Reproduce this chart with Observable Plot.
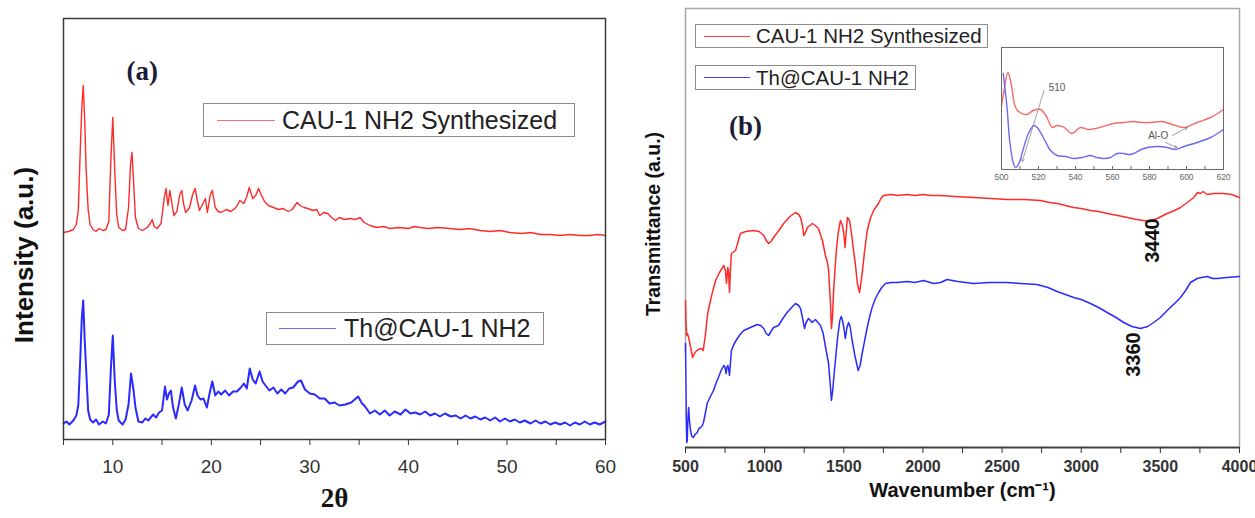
<!DOCTYPE html>
<html><head><meta charset="utf-8">
<script src="https://cdn.jsdelivr.net/npm/d3@7"></script>
<script src="https://cdn.jsdelivr.net/npm/@observablehq/plot@0.6"></script>
<style>
body{margin:0;background:#fff;}
#wrap{position:relative;width:1255px;height:518px;overflow:hidden;font-family:"Liberation Sans",Arial,sans-serif;background:#fff;}
.panel{position:absolute;}
.leg{position:absolute;border:1.5px solid #8c8c8c;background:#fff;box-sizing:border-box;display:flex;align-items:center;white-space:nowrap;color:#222;z-index:5;}
.leg .sw{display:inline-block;height:0;border-top-style:solid;}
</style></head>
<body><div id="wrap"></div>
<script>
// ---------- Panel (a): XRD, [2θ, intensity (a.u.)] ----------
const xrdSynthesized = [
[5.0,207],[5.5,208],[6.0,210],[6.3,215],[6.5,229],[6.7,289],[6.85,330],[7.0,354],[7.15,320],[7.3,269],[7.5,230],[7.7,215],
[8.0,210],[8.3,208],[8.6,211],[9.0,209],[9.3,210],[9.6,218],[9.8,279],[10.0,322],[10.2,269],[10.4,225],[10.6,212],
[11.0,209],[11.3,210],[11.6,232],[11.8,275],[11.95,287],[12.1,260],[12.3,222],[12.6,211],[13.0,209],[13.5,212],[13.8,216],
[14.0,220],[14.2,213],[14.5,211],[14.9,216],[15.2,240],[15.4,251],[15.6,234],[15.8,249],[16.0,236],[16.2,224],[16.5,228],
[16.8,245],[17.0,249],[17.2,235],[17.4,227],[17.8,232],[18.1,245],[18.35,251],[18.6,238],[18.8,229],[19.1,235],[19.4,241],
[19.6,227],[19.9,245],[20.1,249],[20.4,232],[20.7,228],[21.0,227],[21.5,230],[22.0,228],[22.5,232],[22.9,239],[23.3,236],
[23.6,243],[23.85,252],[24.2,241],[24.5,244],[24.8,251],[25.1,244],[25.4,238],[25.8,234],[26.3,232],[26.8,230],[27.3,231],
[27.8,228],[28.2,230],[28.7,237],[29.0,234],[29.4,232],[29.8,231],[30.3,229],[30.7,230],[31.0,224],[31.4,227],[31.8,226],
[32.2,222],[32.6,219],[33.0,222],[33.5,220],[34.1,221],[34.6,220],[35.1,222],[35.5,217],[36.1,214],[36.8,212],[37.5,213],
[38.1,211],[39.0,212],[40.0,211],[40.6,213],[41.2,212],[42.0,211],[43.0,212],[44.2,211],[45.2,210],[46.2,211],[47.3,209],
[48.3,208],[49.3,209],[50.3,207],[51.5,206],[52.4,207],[53.4,205],[54.4,205],[55.4,204],[56.4,205],[57.4,204],[58.4,204],
[59.2,205],[60.0,204]];

const xrdThorium = [
[5.0,16],[5.3,18],[5.6,15],[6.0,19],[6.3,24],[6.5,34],[6.7,80],[6.85,120],[7.0,139],[7.15,100],[7.3,70],[7.5,29],[7.7,20],
[8.0,17],[8.3,20],[8.6,15],[9.0,18],[9.3,16],[9.6,25],[9.8,69],[10.0,104],[10.2,59],[10.4,30],[10.6,19],[11.0,15],[11.3,20],
[11.6,35],[11.85,66],[12.1,50],[12.3,32],[12.6,18],[13.0,17],[13.3,21],[13.6,19],[14.1,25],[14.4,22],[14.7,27],[15.0,29],
[15.3,53],[15.5,40],[15.7,46],[15.9,49],[16.1,33],[16.4,21],[16.7,35],[17.0,52],[17.3,35],[17.6,29],[18.0,39],[18.35,54],
[18.6,44],[18.9,40],[19.2,41],[19.55,32],[19.8,45],[20.1,58],[20.4,44],[20.7,48],[21.0,45],[21.4,49],[21.8,44],[22.2,48],
[22.6,48],[23.0,52],[23.3,56],[23.6,51],[23.9,71],[24.2,60],[24.5,56],[24.9,68],[25.2,58],[25.5,54],[25.9,49],[26.3,52],
[26.7,46],[27.1,50],[27.5,46],[27.9,51],[28.3,52],[28.8,58],[29.1,59],[29.5,50],[30.0,46],[30.5,45],[31.0,41],[31.5,41],
[32.0,36],[32.5,37],[33.0,34],[33.6,35],[34.2,37],[34.9,43],[35.3,36],[35.6,33],[36.1,26],[36.6,29],[37.1,25],[37.6,29],
[38.1,24],[38.6,28],[39.2,25],[39.7,30],[40.2,26],[40.7,27],[41.2,25],[41.7,28],[42.2,24],[42.7,26],[43.2,23],[43.7,26],
[44.3,23],[44.8,24],[45.3,21],[45.8,24],[46.3,21],[46.8,23],[47.3,20],[47.8,22],[48.3,19],[48.8,22],[49.3,18],[49.8,21],
[50.3,18],[50.8,20],[51.3,17],[51.8,19],[52.4,16],[52.9,19],[53.4,16],[53.9,18],[54.4,15],[54.9,17],[55.4,15],[55.9,17],
[56.4,14],[56.9,17],[57.4,15],[57.9,18],[58.4,15],[58.9,17],[59.4,15],[60.0,18]];

// ---------- Panel (b): FTIR, [wavenumber cm-1, transmittance (a.u.)] ----------
const ftirSynthesized = [
[500,147],[503,127],[507,112],[512,114],[520,110],[530,102],[545,90],[560,95],[580,98],[600,99],[612,97],[625,112],
[640,134],[665,152],[690,167],[715,175],[742,182],[752,177],[759,164],[767,180],[772,177],[778,155],[784,177],[790,194],
[816,197],[847,214],[880,216],[930,217],[965,216],[995,212],[1010,207],[1025,204],[1040,206],[1056,210],[1090,217],
[1120,224],[1160,231],[1195,235],[1215,233],[1227,230],[1240,221],[1247,212],[1258,215],[1270,220],[1302,224],[1320,222],
[1340,219],[1365,207],[1384,192],[1397,185],[1404,177],[1415,147],[1422,119],[1428,129],[1435,154],[1445,179],[1453,197],
[1465,215],[1479,227],[1490,223],[1500,214],[1508,200],[1515,215],[1523,230],[1536,227],[1548,215],[1559,200],[1572,185],
[1586,164],[1600,155],[1616,174],[1632,197],[1648,217],[1668,229],[1688,237],[1719,244],[1735,249],[1751,252],[1800,253],
[1838,252],[1900,253],[1950,252],[2000,253],[2047,252],[2111,252],[2200,251],[2321,250],[2430,249],[2532,248],[2640,248],
[2743,247],[2800,245],[2850,244],[2900,242],[2951,240],[3000,239],[3058,237],[3110,236],[3165,234],[3230,232],[3292,230],
[3350,228],[3393,227],[3430,226],[3480,229],[3543,234],[3590,237],[3627,240],[3670,245],[3711,250],[3735,255],[3753,254],
[3770,256],[3797,253],[3840,254],[3898,254],[3950,253],[4000,250]];

const ftirThorium = [
[500,104],[502,77],[505,27],[508,5],[511,7],[515,27],[520,40],[525,27],[532,17],[540,11],[549,10],[560,13],[574,15],
[585,19],[595,20],[603,21],[612,24],[625,34],[637,44],[657,51],[677,57],[692,64],[708,70],[725,77],[742,82],[750,80],
[757,74],[762,80],[767,82],[772,79],[778,72],[784,85],[790,97],[805,103],[827,109],[850,114],[868,117],[910,120],
[953,123],[975,122],[994,119],[1010,114],[1025,112],[1040,116],[1056,120],[1087,122],[1115,129],[1142,135],[1170,140],
[1195,144],[1215,142],[1227,139],[1240,129],[1252,119],[1262,125],[1277,129],[1290,127],[1300,125],[1321,128],[1353,122],
[1370,114],[1385,100],[1404,84],[1415,62],[1422,47],[1430,57],[1441,77],[1461,110],[1475,127],[1484,131],[1492,127],
[1500,120],[1510,109],[1520,120],[1530,125],[1540,121],[1553,107],[1570,92],[1591,77],[1603,82],[1616,94],[1632,107],
[1648,120],[1665,132],[1679,140],[1700,149],[1720,155],[1740,160],[1763,164],[1800,165],[1837,165],[1900,166],[1950,165],
[2004,167],[2067,164],[2111,165],[2153,168],[2220,166],[2321,164],[2420,165],[2532,165],[2620,164],[2721,163],[2790,160],
[2848,156],[2900,153],[2953,150],[3000,148],[3058,144],[3110,140],[3164,135],[3220,130],[3269,125],[3320,121],[3374,119],
[3420,121],[3458,125],[3500,130],[3543,137],[3590,144],[3627,150],[3660,157],[3690,165],[3733,169],[3760,170],[3796,171],
[3830,169],[3859,169],[3920,170],[4000,171]];

// ---------- Inset (500–620 cm-1) ----------
const insetSynthesized = [
[500,64],[501.5,80],[503.4,97],[505,88],[507.6,62],[510,57],[513.9,55],[517,59],[521,60],[524,54],[527.5,42],[530,44],
[533.9,42],[538,36],[542.7,42],[547,40],[555,43],[560.6,46],[566,47],[571.4,48],[576,47],[580.5,47],[586.8,48],[592.3,45],
[598.6,42],[605.8,47],[613,52],[620,60]];
const insetThorium = [
[500.9,96],[503,62],[504.4,29],[506.3,7],[507.6,2],[509.4,6],[512,22],[514.8,37],[517.5,44],[519.3,42],[522.9,31],
[526.5,19],[530,14],[534.6,13],[539,11],[543.5,12],[548,14],[551.5,12],[555.3,11],[558.9,12],[562.5,16],[566,16],
[569.7,15],[576.9,21],[584,23],[589.6,22],[594,20],[598.6,23],[605.8,27],[613,32],[620,40]];
const insetAnnotations = [
  {label: "510", x: 530, y: 82, x1: 523, y1: 79, x2: 511.2, y2: 8},
  {label: "Al-O", x: 584.7, y: 34, x1: 592.3, y1: 34, x2: 600.4, y2: 42},
  {label: "", x: 0, y: 0, x1: 588.6, y1: 27, x2: 594.9, y2: 22}
];

const xTicksA = [5,10,15,20,25,30,35,40,45,50,55,60];
const xTicksB = [500,750,1000,1250,1500,1750,2000,2250,2500,2750,3000,3250,3500,3750,4000];
const xTicksInset = [500,510,520,530,540,550,560,570,580,590,600,610,620];
const peakLabels = [{wn: 3450, t: 207, text: "3440"}, {wn: 3330, t: 93, text: "3360"}];
const seriesNames = ["CAU-1 NH2 Synthesized", "Th@CAU-1 NH2"];

const RED = "#ff2a2a", BLUE = "#2a2aff";
const wrap = document.getElementById("wrap");
const sans = "'Liberation Sans', Arial, sans-serif";
const serif = "'Liberation Serif', 'Times New Roman', serif";

function place(node, left, top) {
  node.classList.add("panel");
  node.style.left = left + "px";
  node.style.top = top + "px";
  wrap.appendChild(node);
}

// ----- Panel (a)
const pa = Plot.plot({
  width: 630, height: 518,
  marginLeft: 63, marginRight: 25, marginTop: 18, marginBottom: 79,
  style: {fontFamily: sans, background: "transparent", overflow: "visible"},
  x: {domain: [5, 60]},
  y: {domain: [0, 421], axis: null},
  marks: [
    Plot.line(xrdSynthesized, {x: d => d[0], y: d => d[1], stroke: RED, strokeWidth: 1.4}),
    Plot.line(xrdThorium, {x: d => d[0], y: d => d[1], stroke: BLUE, strokeWidth: 2}),
    Plot.frame({stroke: "#3a3a3a", strokeWidth: 1.5}),
    Plot.axisX({ticks: xTicksA, tickSize: 6, tickPadding: 14, tickFormat: d => d % 10 === 0 ? String(d) : "",
      fontSize: 19, color: "#333", label: null}),
    Plot.text(["(a)"], {x: [13.0], y: [368], text: d => d, fontFamily: serif, fontWeight: "bold", fontSize: 27, fill: "#1c1c38"}),
    Plot.text(["2θ"], {frameAnchor: "bottom", dy: 67, text: d => d, fontFamily: serif, fontWeight: "bold", fontSize: 27, fill: "#111"}),
    Plot.text(["Intensity (a.u.)"], {frameAnchor: "left", textAnchor: "middle", rotate: -90, dx: -39, dy: 26, text: d => d, fontWeight: "bold", fontSize: 26, fill: "#111"})
  ]
});
place(pa, 0, 0);

// ----- Panel (b)
const pb = Plot.plot({
  width: 625, height: 518,
  marginLeft: 55, marginRight: 16, marginTop: 8, marginBottom: 71,
  style: {fontFamily: sans, background: "transparent", overflow: "visible"},
  x: {domain: [500, 4000]},
  y: {domain: [0, 439], axis: null},
  marks: [
    Plot.ruleY([439], {stroke: "#a8a8a8", strokeWidth: 1.5}),
    Plot.ruleX([4000], {stroke: "#a8a8a8", strokeWidth: 1.5}),
    Plot.ruleX([500], {y1: 95, y2: 439, stroke: "#a8a8a8", strokeWidth: 1.5}),
    Plot.line(ftirSynthesized, {x: d => d[0], y: d => d[1], stroke: RED, strokeWidth: 1.5}),
    Plot.line(ftirThorium, {x: d => d[0], y: d => d[1], stroke: BLUE, strokeWidth: 1.5}),
    Plot.ruleY([0], {stroke: "#444", strokeWidth: 2}),
    Plot.axisX({ticks: xTicksB, tickSize: 6, tickPadding: 7, tickFormat: d => d % 500 === 0 ? String(d) : "",
      fontSize: 16, fontWeight: "bold", color: "#333", label: null}),
    Plot.text(["(b)"], {x: [879], y: [321], text: d => d, fontFamily: serif, fontWeight: "bold", fontSize: 27, fill: "#1c1c38"}),
    Plot.text(peakLabels, {x: "wn", y: "t", text: "text", rotate: -90, fontWeight: "bold", fontSize: 20, fill: "#111"}),
    Plot.text(["Wavenumber (cm⁻¹)"], {frameAnchor: "bottom", dy: 49, text: d => d, fontWeight: "bold", fontSize: 20, fill: "#111"}),
    Plot.text(["Transmittance (a.u.)"], {frameAnchor: "left", textAnchor: "middle", rotate: -90, dx: -32, dy: -4, text: d => d, fontWeight: "bold", fontSize: 19.5, fill: "#111"})
  ]
});
place(pb, 630, 0);

// ----- Inset
const pi = Plot.plot({
  width: 254, height: 150,
  marginLeft: 10, marginRight: 22, marginTop: 5, marginBottom: 23,
  style: {fontFamily: sans, background: "transparent", overflow: "visible"},
  x: {domain: [500, 620]},
  y: {domain: [0, 122], axis: null},
  marks: [
    Plot.line(insetSynthesized, {x: d => d[0], y: d => d[1], stroke: "#f46a6a", strokeWidth: 1.4, curve: "catmull-rom"}),
    Plot.line(insetThorium, {x: d => d[0], y: d => d[1], stroke: "#6a6af4", strokeWidth: 1.4, curve: "catmull-rom"}),
    Plot.frame({stroke: "#6a6a6a", strokeWidth: 1}),
    Plot.axisX({ticks: xTicksInset, tickSize: -3, tickPadding: 7, tickFormat: d => d % 20 === 0 ? String(d) : "",
      fontSize: 8.5, color: "#666", label: null}),
    Plot.arrow(insetAnnotations, {x1: "x1", y1: "y1", x2: "x2", y2: "y2", stroke: "#8a8a8a", strokeWidth: 0.8, headLength: 5}),
    Plot.text(insetAnnotations.filter(d => d.label), {x: "x", y: "y", text: "label", fontSize: 10, fill: "#555"})
  ]
});
place(pi, 991, 42);

// ----- Legends (HTML)
function legend(left, top, w, h, color, name, swLeft, swW, gap, fs) {
  const box = document.createElement("div");
  box.className = "leg";
  Object.assign(box.style, {left: left + "px", top: top + "px", width: w + "px", height: h + "px", fontSize: fs + "px"});
  const sw = document.createElement("span");
  sw.className = "sw";
  Object.assign(sw.style, {width: swW + "px", marginLeft: swLeft + "px", borderTopWidth: "1.5px", borderTopColor: color});
  const tx = document.createElement("span");
  tx.textContent = name;
  tx.style.marginLeft = gap + "px";
  box.appendChild(sw); box.appendChild(tx);
  wrap.appendChild(box);
}
legend(203, 103, 372, 34, "#ff6a6a", seriesNames[0], 13, 58, 7, 25);
legend(266, 312, 278, 33, "#6a6aff", seriesNames[1], 12, 57, 8, 25);
legend(695, 24, 293, 24, "#ff4040", seriesNames[0], 8, 46, 6, 20.5);
legend(695, 65, 221, 25, "#4040ff", seriesNames[1], 8, 46, 6, 20.5);
</script></body></html>
